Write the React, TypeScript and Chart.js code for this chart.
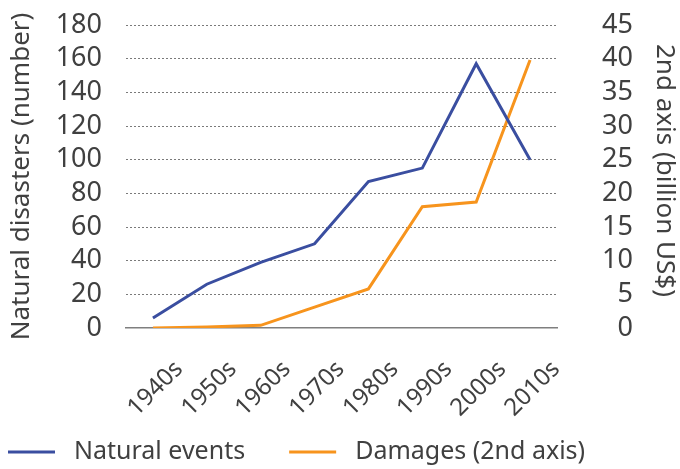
import React, { useEffect, useRef } from "react";
import { Chart, registerables } from "chart.js";

Chart.register(...registerables);

const categories = ["1940s", "1950s", "1960s", "1970s", "1980s", "1990s", "2000s", "2010s"];
const naturalEvents = [6, 26, 39, 50, 87, 95, 157, 100];
const damages = [0, 0.15, 0.4, 3.1, 5.8, 18, 18.7, 39.8];
const leftTitle = "Natural disasters (number)";
const rightTitle = "2nd axis (billion US$)";
const seriesNames = ["Natural events", "Damages (2nd axis)"];
const seriesColors = ["#3A4EA0", "#F7941D"];

const FONT = "'Noto Sans', 'Liberation Sans', sans-serif";
const TEXT = "#404040";

const customPlugin = {
  id: "customDecor",
  afterDraw(chart: any) {
    const ctx = chart.ctx;
    const area = chart.chartArea;
    ctx.save();
    // right axis title
    ctx.font = `26px ${FONT}`;
    ctx.fillStyle = TEXT;
    ctx.textAlign = "center";
    ctx.textBaseline = "middle";
    ctx.translate(664, (area.top + area.bottom) / 2 - 6);
    ctx.rotate(Math.PI / 2);
    ctx.fillText(rightTitle, 0, 0);
    ctx.restore();

    // legend
    ctx.save();
    ctx.font = `25px ${FONT}`;
    ctx.textAlign = "left";
    ctx.textBaseline = "middle";
    const y = 452;
    let x = 8;
    chart.data.datasets.forEach((ds: any) => {
      ctx.strokeStyle = ds.borderColor;
      ctx.lineWidth = 3;
      ctx.beginPath();
      ctx.moveTo(x, y);
      ctx.lineTo(x + 47, y);
      ctx.stroke();
      x += 47 + 19;
      ctx.fillStyle = TEXT;
      ctx.fillText(ds.label, x, y);
      x += ctx.measureText(ds.label).width + 44;
    });
    ctx.restore();
  },
};

export default function App() {
  const ref = useRef<HTMLCanvasElement>(null);
  useEffect(() => {
    document.body.style.margin = "0";
    const chart = new Chart(ref.current!, {
      type: "line",
      data: {
        labels: categories,
        datasets: [
          {
            label: seriesNames[0],
            data: naturalEvents,
            borderColor: seriesColors[0],
            backgroundColor: seriesColors[0],
            borderWidth: 3,
            pointRadius: 0,
            tension: 0,
            yAxisID: "y",
          },
          {
            label: seriesNames[1],
            data: damages,
            borderColor: seriesColors[1],
            backgroundColor: seriesColors[1],
            borderWidth: 3,
            pointRadius: 0,
            tension: 0,
            yAxisID: "y1",
          },
        ],
      },
      options: {
        animation: false,
        responsive: false,
        maintainAspectRatio: false,
        layout: { padding: { top: 25, left: 0, right: 47, bottom: 0 } },
        plugins: {
          legend: { display: false },
          tooltip: { enabled: false },
        },
        scales: {
          x: {
            offset: true,
            grid: { display: false, drawTicks: false },
            border: { display: true, color: "#7f7f7f", width: 1.5 },
            ticks: {
              color: TEXT,
              font: { family: FONT, size: 24 },
              minRotation: 45,
              maxRotation: 45,
              labelOffset: 26,
              padding: 27,
              autoSkip: false,
            },
            afterFit: (s: any) => {
              s.height = 469 - 328;
            },
          },
          y: {
            position: "left",
            min: 0,
            max: 180,
            ticks: {
              stepSize: 20,
              autoSkip: false,
              color: TEXT,
              font: { family: FONT, size: 27 },
              padding: 24,
            },
            grid: {
              drawTicks: false,
              color: (c: any) => (c.tick && c.tick.value === 0 ? "rgba(0,0,0,0)" : "#7a7a7a"),
              lineWidth: 1,
            },
            border: { display: false, dash: [2, 2] },
            title: {
              display: true,
              text: leftTitle,
              color: TEXT,
              font: { family: FONT, size: 26 },
              padding: { top: 6, bottom: 4 },
            },
            afterFit: (s: any) => {
              s.width = 126;
              s.paddingTop = 0;
              s.paddingBottom = 0;
            },
          },
          y1: {
            position: "right",
            min: 0,
            max: 45,
            ticks: {
              stepSize: 5,
              autoSkip: false,
              color: TEXT,
              font: { family: FONT, size: 27 },
              crossAlign: "far",
            },
            grid: { drawOnChartArea: false, drawTicks: false },
            border: { display: false },
            afterFit: (s: any) => {
              s.width = 633 - 557;
              s.paddingTop = 0;
              s.paddingBottom = 0;
            },
          },
        },
      },
      plugins: [customPlugin],
    });
    return () => chart.destroy();
  }, []);
  return (
    <div style={{ width: 680, height: 469 }}>
      <canvas ref={ref} width={680} height={469} style={{ display: "block", width: 680, height: 469 }} />
    </div>
  );
}
